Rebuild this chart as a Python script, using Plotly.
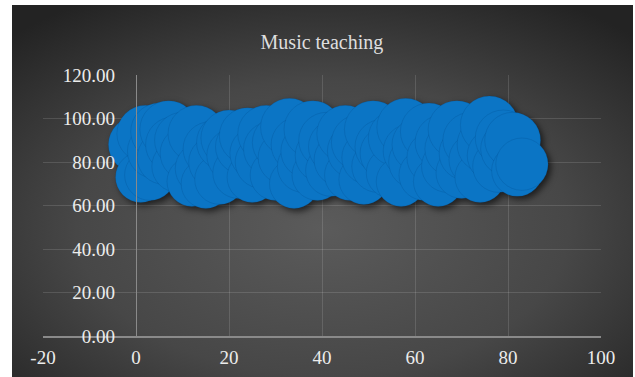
import base64
import plotly.graph_objects as go

# Lesson index, score and bubble weight for the music teaching series
lesson_index = list(range(0, 84))
score = [
    88, 73, 93, 74, 85, 94, 82, 95, 88, 78,
    90, 84, 71, 93, 77, 70, 86, 80, 72, 89,
    91, 83, 75, 87, 92, 73, 84, 80, 93, 86,
    74, 89, 82, 96, 70, 88, 78, 85, 95, 74,
    83, 90, 76, 87, 81, 93, 74, 85, 89, 72,
    82, 95, 78, 87, 84, 75, 91, 71, 96, 85,
    80, 88, 74, 94, 82, 71, 89, 78, 86, 95,
    75, 84, 90, 81, 73, 88, 97, 83, 78, 91,
    86, 90, 76, 79,
]
bubble_weight = score

x_tick_values = [-20, 0, 20, 40, 60, 80, 100]
x_tick_labels = ["-20", "0", "20", "40", "60", "80", "100"]
y_tick_values = [0, 20, 40, 60, 80, 100, 120]
y_tick_labels = ["0.00", "20.00", "40.00", "60.00", "80.00", "100.00", "120.00"]

W, H = 635, 377
M_L, M_R, M_T, M_B = 43, 34, 75, 41
plot_w = W - M_L - M_R
plot_h = H - M_T - M_B
x_range = [-20, 100]
y_range = [0, 120]

SERIF = "Liberation Serif, Times New Roman, serif"
BUBBLE_BLUE = "#0B75C5"

max_diameter = 58
sizeref = 2.0 * max(bubble_weight) / (max_diameter ** 2)

fig = go.Figure()
fig.add_trace(go.Scatter(
    x=lesson_index,
    y=score,
    mode="markers",
    marker=dict(
        size=bubble_weight,
        sizemode="area",
        sizeref=sizeref,
        color=BUBBLE_BLUE,
        opacity=1,
        line=dict(color="rgba(0,55,115,0.16)", width=1),
    ),
    hoverinfo="skip",
    showlegend=False,
))

# Dark radial-gradient panel behind the chart
panel_svg = (
    '<svg xmlns="http://www.w3.org/2000/svg" width="621" height="372" '
    'viewBox="0 0 621 372" preserveAspectRatio="none">'
    '<defs><radialGradient id="g" cx="0.5" cy="0.6" r="0.72">'
    '<stop offset="0" stop-color="#5b5b5b"/>'
    '<stop offset="0.55" stop-color="#474747"/>'
    '<stop offset="1" stop-color="#232323"/>'
    '</radialGradient></defs>'
    '<rect width="621" height="372" fill="url(#g)"/></svg>'
)
panel_src = "data:image/svg+xml;base64," + base64.b64encode(panel_svg.encode()).decode()
panel_left, panel_top, panel_w, panel_h = 12, 5, 621, 372

fig.add_layout_image(dict(
    source=panel_src,
    xref="paper", yref="paper",
    x=(panel_left - M_L) / plot_w,
    y=(H - M_B - panel_top) / plot_h,
    sizex=panel_w / plot_w,
    sizey=panel_h / plot_h,
    xanchor="left", yanchor="top",
    sizing="stretch",
    layer="below",
))

grid_color = "rgba(255,255,255,0.13)"
axis_color = "#8a8a8a"
tick_font = dict(family=SERIF, size=19, color="#ececec")

fig.update_layout(
    width=W, height=H,
    margin=dict(l=M_L, r=M_R, t=M_T, b=M_B, autoexpand=False),
    paper_bgcolor="#ffffff",
    plot_bgcolor="rgba(0,0,0,0)",
    title=dict(
        text="Music teaching",
        font=dict(family=SERIF, size=20, color="#dedede"),
        xref="container", yref="container",
        x=0.507, y=1 - 42 / H,
        xanchor="center", yanchor="middle",
    ),
    xaxis=dict(
        range=x_range,
        tickvals=x_tick_values,
        ticktext=x_tick_labels,
        showgrid=True, gridcolor=grid_color, gridwidth=1,
        zeroline=False,
        showline=True, linecolor=axis_color, linewidth=1.5,
        ticks="", ticklabelstandoff=3,
        tickfont=tick_font,
        automargin=False,
        fixedrange=True,
    ),
    yaxis=dict(
        range=y_range,
        tickvals=y_tick_values,
        ticktext=y_tick_labels,
        showgrid=True, gridcolor=grid_color, gridwidth=1,
        zeroline=False,
        anchor="free",
        position=(0 - x_range[0]) / (x_range[1] - x_range[0]),
        showline=True, linecolor=axis_color, linewidth=1.2,
        ticks="", ticklabelstandoff=17,
        tickfont=tick_font,
        automargin=False,
        fixedrange=True,
    ),
)

# Soft outer shadow on the bubble group
shadow_js = (
    "var gd=document.getElementById('{plot_id}');"
    "gd.querySelectorAll('.scatterlayer .trace').forEach(function(t){"
    "t.style.filter='drop-shadow(3px 3px 3px rgba(0,0,0,0.6))';});"
    "document.body.style.margin='0';"
)

fig.write_html("out.html", config={"displayModeBar": False}, post_script=shadow_js)
